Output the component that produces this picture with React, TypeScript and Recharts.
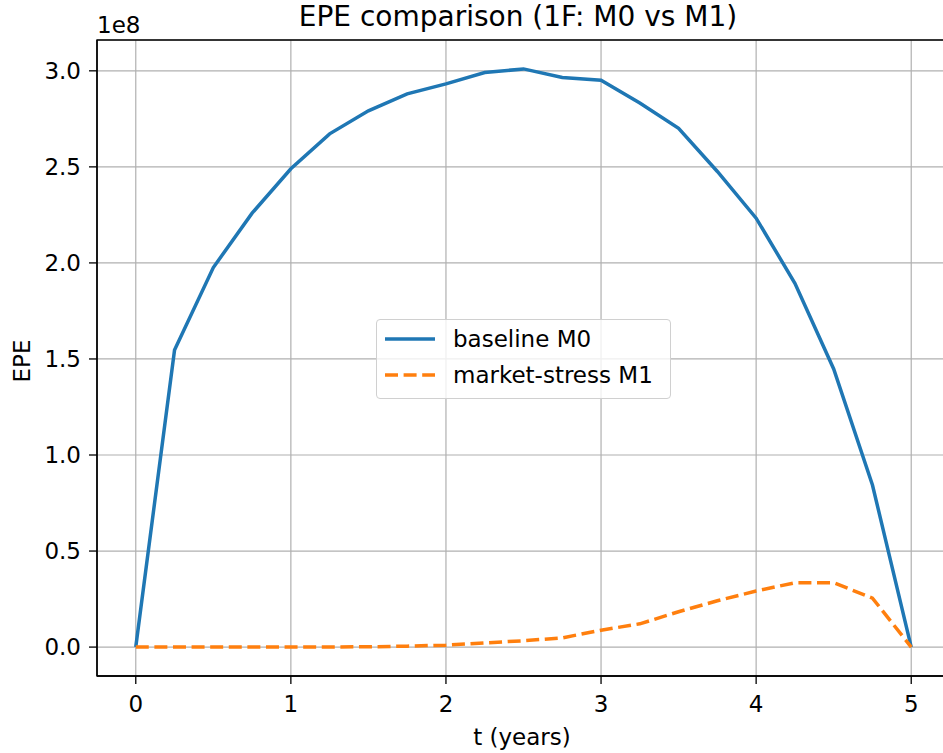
import React from "react";
import {
  LineChart,
  Line,
  XAxis,
  YAxis,
  CartesianGrid,
  Legend,
  ReferenceArea,
} from "recharts";

// EPE values in units of 1e8, sampled every quarter year
const times = [0, 0.25, 0.5, 0.75, 1, 1.25, 1.5, 1.75, 2, 2.25, 2.5, 2.75, 3, 3.25, 3.5, 3.75, 4, 4.25, 4.5, 4.75, 5];
const baselineM0 = [0, 1.547, 1.976, 2.259, 2.49, 2.672, 2.792, 2.88, 2.932, 2.991, 3.01, 2.965, 2.951, 2.832, 2.701, 2.476, 2.233, 1.894, 1.448, 0.844, 0];
const stressM1 = [0, 0, 0, 0.0001, 0.0003, 0.0008, 0.0015, 0.005, 0.01, 0.022, 0.033, 0.048, 0.088, 0.121, 0.184, 0.241, 0.292, 0.335, 0.335, 0.255, 0];
const xTicks = [0, 1, 2, 3, 4, 5];
const yTicks = [0, 0.5, 1, 1.5, 2, 2.5, 3];

const data = times.map((t, i) => ({ t, m0: baselineM0[i], m1: stressM1[i] }));

const FONT = "DejaVu Sans, sans-serif";
const BLUE = "#1f77b4";
const ORANGE = "#ff7f0e";
const DASH = "13 5.6";

// matplotlib-style legend box
const LegendBox = () => {
  const rows = [
    { label: "baseline M0", color: BLUE, dash: undefined },
    { label: "market-stress M1", color: ORANGE, dash: DASH },
  ];
  return (
    <div
      style={{
        background: "rgba(255,255,255,0.8)",
        border: "1px solid #d0d0d0",
        borderRadius: 4,
        padding: "1px 10px 4px 8px",
        fontFamily: FONT,
        fontSize: 23,
        color: "#000",
        boxSizing: "border-box",
        width: 295,
        height: 80,
      }}
    >
      {rows.map((r) => (
        <div key={r.label} style={{ display: "flex", alignItems: "center", height: 36, whiteSpace: "nowrap" }}>
          <svg width={50} height={10} style={{ marginRight: 18, flexShrink: 0 }}>
            <line x1={0} y1={5} x2={50} y2={5} stroke={r.color} strokeWidth={3.5} strokeDasharray={r.dash} />
          </svg>
          <span>{r.label}</span>
        </div>
      ))}
    </div>
  );
};

export default function App() {
  return (
    <div
      style={{
        position: "absolute",
        left: 0,
        top: 0,
        width: 943,
        height: 753,
        overflow: "hidden",
        background: "#fff",
      }}
    >
      <LineChart
        width={950}
        height={753}
        data={data}
        margin={{ top: 40, right: 0, bottom: 0, left: 0 }}
        style={{ fontFamily: FONT }}
      >
        <CartesianGrid stroke="#b0b0b0" strokeWidth={1.2} />
        <XAxis
          dataKey="t"
          type="number"
          domain={[-0.25, 5.25]}
          ticks={xTicks}
          height={77}
          tickSize={8}
          tickMargin={12}
          tick={{ fill: "#000", fontSize: 23, fontFamily: FONT }}
          tickLine={{ stroke: "#000", strokeWidth: 1.3 }}
          axisLine={{ stroke: "#000", strokeWidth: 1.3 }}
        />
        <YAxis
          type="number"
          domain={[-0.1505, 3.1605]}
          ticks={yTicks}
          width={97}
          tickSize={8}
          tickMargin={8}
          tickFormatter={(v: number) => v.toFixed(1)}
          tick={{ fill: "#000", fontSize: 23, fontFamily: FONT }}
          tickLine={{ stroke: "#000", strokeWidth: 1.3 }}
          axisLine={{ stroke: "#000", strokeWidth: 1.3 }}
          allowDataOverflow
        />
        <ReferenceArea
          x1={-0.25}
          x2={5.25}
          y1={-0.1505}
          y2={3.1605}
          fill="none"
          stroke="#000"
          strokeWidth={1.3}
          ifOverflow="visible"
        />
        <Line dataKey="m0" name="baseline M0" stroke={BLUE} strokeWidth={3.5} dot={false} isAnimationActive={false} />
        <Line
          dataKey="m1"
          name="market-stress M1"
          stroke={ORANGE}
          strokeWidth={3.5}
          strokeDasharray={DASH}
          dot={false}
          isAnimationActive={false}
        />
        <Legend
          layout="horizontal"
          verticalAlign="middle"
          align="center"
          content={<LegendBox />}
          wrapperStyle={{ left: 376, top: 319, width: 295 }}
        />
        <text x={518} y={26} textAnchor="middle" fontSize={28} fontFamily={FONT} fill="#000">
          EPE comparison (1F: M0 vs M1)
        </text>
        <text x={97} y={33} textAnchor="start" fontSize={23} fontFamily={FONT} fill="#000">
          1e8
        </text>
        <text x={522} y={745} textAnchor="middle" fontSize={23} fontFamily={FONT} fill="#000">
          t (years)
        </text>
        <text
          x={22}
          y={361}
          transform="rotate(-90, 22, 361)"
          textAnchor="middle"
          dominantBaseline="central"
          fontSize={23}
          fontFamily={FONT}
          fill="#000"
        >
          EPE
        </text>
      </LineChart>
    </div>
  );
}
